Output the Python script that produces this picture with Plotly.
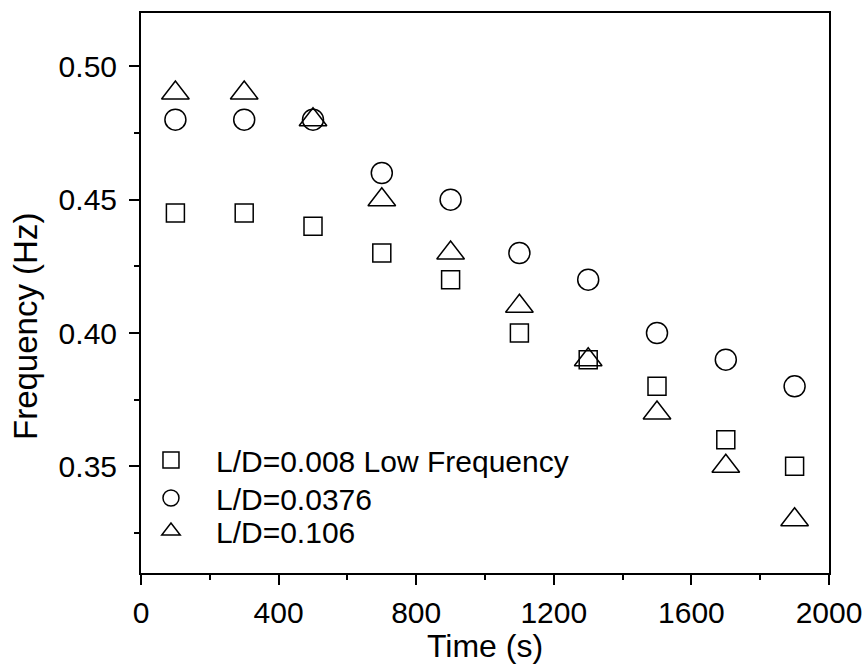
import plotly.graph_objects as go

time_s = [100, 300, 500, 700, 900, 1100, 1300, 1500, 1700, 1900]
freq_ld_0008 = [0.445, 0.445, 0.44, 0.43, 0.42, 0.40, 0.39, 0.38, 0.36, 0.35]
freq_ld_00376 = [0.48, 0.48, 0.48, 0.46, 0.45, 0.43, 0.42, 0.40, 0.39, 0.38]
freq_ld_0106 = [0.49, 0.49, 0.48, 0.45, 0.43, 0.41, 0.39, 0.37, 0.35, 0.33]
names = ["L/D=0.008 Low Frequency", "L/D=0.0376", "L/D=0.106"]
x_ticks = [0, 400, 800, 1200, 1600, 2000]
y_ticks = [0.35, 0.40, 0.45, 0.50]

FONT = "Liberation Sans, Arial, sans-serif"

fig = go.Figure()
series = [
    (freq_ld_0008, "square-open", 18, "legend"),
    (freq_ld_00376, "circle-open", 21, "legend2"),
    (freq_ld_0106, "triangle-up-open", 24, "legend3"),
]
for (vals, sym, size, leg), name in zip(series, names):
    fig.add_trace(go.Scatter(
        x=time_s, y=vals, mode="markers", name=name, legend=leg,
        showlegend=True,
        marker=dict(symbol=sym, size=size, color="black",
                    line=dict(color="black", width=1.5)),
    ))

axis_common = dict(
    showline=True, linecolor="black", linewidth=2, mirror=True,
    ticks="outside", ticklen=10, tickwidth=1.5, tickcolor="black",
    showgrid=False, zeroline=False, automargin=False,
    tickfont=dict(family=FONT, size=30, color="black"),
)

fig.update_xaxes(
    range=[0, 2000], tickvals=x_ticks, ticklabelstandoff=2,
    minor=dict(ticks="outside", ticklen=5, tickwidth=1.5, tickcolor="black", dtick=200, tick0=0, showgrid=False),
    title=dict(text="Time (s)", font=dict(family=FONT, size=32, color="black"), standoff=6),
    **axis_common,
)
fig.update_yaxes(
    range=[0.31, 0.52], tickvals=y_ticks, tickformat=".2f", ticklabelstandoff=6,
    minor=dict(ticks="outside", ticklen=5, tickwidth=1.5, tickcolor="black", dtick=0.025, tick0=0.3, showgrid=False),
    **axis_common,
)

fig.add_annotation(
    text="Frequency (Hz)", textangle=-90, showarrow=False,
    xref="paper", yref="paper", x=-0.168, y=0.44,
    xanchor="center", yanchor="middle",
    font=dict(family=FONT, size=33, color="black"),
)

legend_common = dict(
    xref="container", yref="container", x=0.1453,
    xanchor="left", yanchor="middle", visible=True,
    bgcolor="rgba(0,0,0,0)", borderwidth=0,
    font=dict(family=FONT, size=30, color="black"),
    itemwidth=80,
)

fig.update_layout(
    width=867, height=664, showlegend=True,
    margin=dict(l=141, r=38, t=13, b=91, autoexpand=False),
    paper_bgcolor="white", plot_bgcolor="white",
    font=dict(family=FONT, color="black"),
    legend=dict(y=0.3072, **legend_common),
    legend2=dict(y=0.250, **legend_common),
    legend3=dict(y=0.2003, **legend_common),
)

fig.write_html("out.html", config={"displayModeBar": False},
               post_script="document.body.style.margin='0';")
